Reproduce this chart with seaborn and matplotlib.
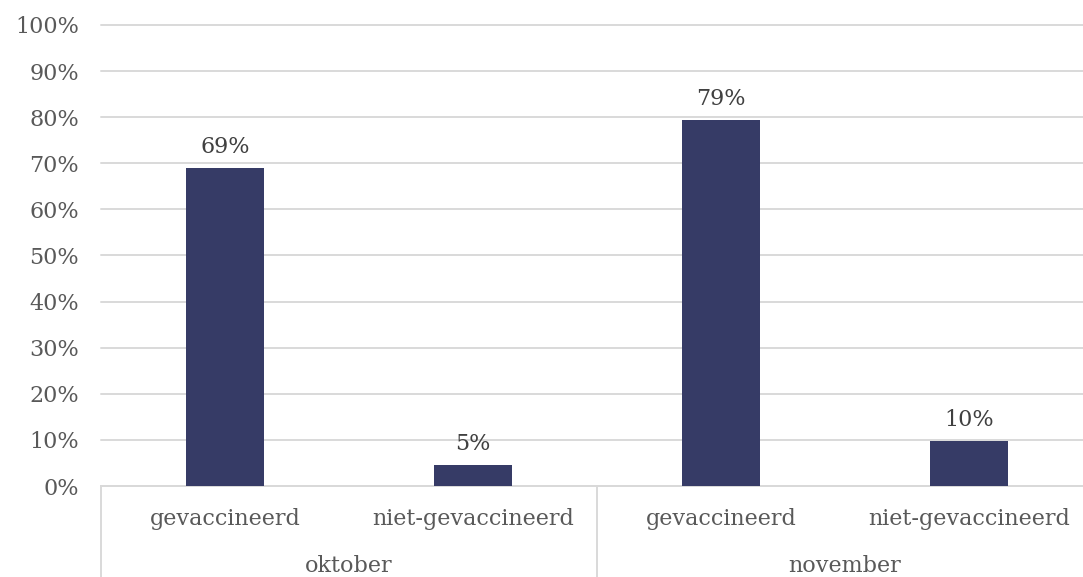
import matplotlib
matplotlib.use("Agg")
import matplotlib.pyplot as plt
import matplotlib.transforms as mtransforms
from matplotlib.lines import Line2D
import seaborn as sns
import pandas as pd

months = ["oktober", "oktober", "november", "november"]
groups = ["gevaccineerd", "niet-gevaccineerd", "gevaccineerd", "niet-gevaccineerd"]
values = [0.69, 0.046, 0.794, 0.098]
month_labels = ["oktober", "november"]
yticks = [0, 0.1, 0.2, 0.3, 0.4, 0.5, 0.6, 0.7, 0.8, 0.9, 1.0]

df = pd.DataFrame({"month": months, "group": groups, "value": values})
df["key"] = df["month"] + "|" + df["group"]

sns.set_theme(style="white")
plt.rcParams["font.family"] = ["DejaVu Serif"]
TXT = "#595959"
GRID = "#D9D9D9"
BAR = "#363B66"
FS = 16

fig = plt.figure(figsize=(10.83, 5.77), dpi=100)
ax = fig.add_axes([0.0933, 0.1577, 0.916, 0.799])

sns.barplot(data=df, x="key", y="value", order=list(df["key"]), color=BAR,
            width=0.315, saturation=1, ax=ax, zorder=3, linewidth=0)

ax.set_ylim(0, 1.0)
ax.set_xlim(-0.5, len(df) - 0.5)
ax.set_yticks(yticks)
ax.set_yticklabels([f"{int(round(t*100))}%" for t in yticks], color=TXT, fontsize=FS)
ax.yaxis.grid(True, color=GRID, linewidth=1.4, zorder=0)
for gl in ax.yaxis.get_gridlines():
    gl.set_clip_on(False)
ax.set_axisbelow(True)
ax.set_xlabel("")
ax.set_ylabel("")
ax.tick_params(axis="y", length=0, pad=16)
ax.tick_params(axis="x", length=0, pad=16)
ax.set_xticks(range(len(df)))
ax.set_xticklabels(groups, color=TXT, fontsize=FS)
for s in ["top", "right", "left"]:
    ax.spines[s].set_visible(False)
ax.spines["bottom"].set_color(GRID)
ax.spines["bottom"].set_linewidth(1.4)

for i, v in enumerate(values):
    ax.text(i, v + 0.022, f"{round(v*100)}%", ha="center", va="bottom",
            color="#404040", fontsize=FS)

trans = mtransforms.blended_transform_factory(ax.transData, ax.transAxes)
for j, m in enumerate(month_labels):
    ax.text(2 * j + 0.5, -0.174, m, ha="center", va="center", color=TXT,
            fontsize=FS, transform=trans)
for xb in [-0.5, 1.5, 3.5]:
    ax.add_line(Line2D([xb, xb], [0, -0.25], transform=trans, color=GRID,
                       linewidth=1.4, clip_on=False))

fig.savefig("out.png", dpi=100)
